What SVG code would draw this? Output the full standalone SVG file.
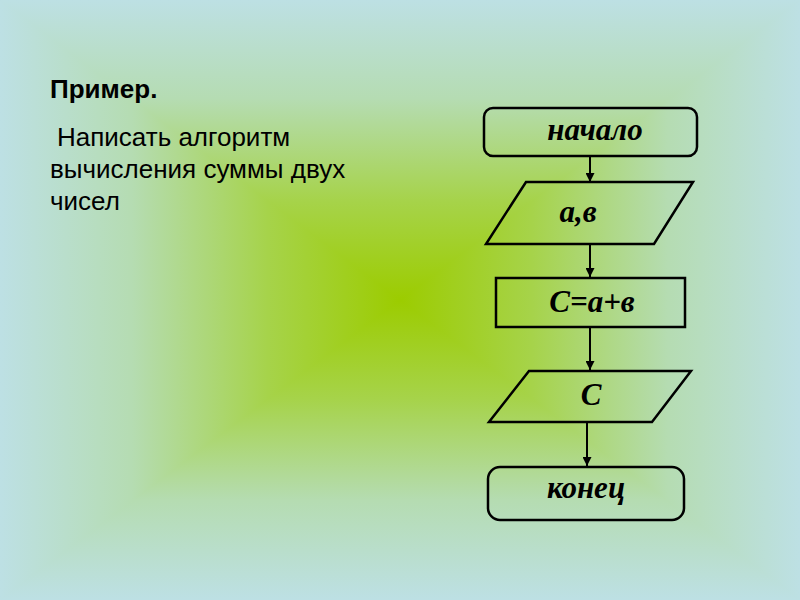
<svg xmlns="http://www.w3.org/2000/svg" width="800" height="600" viewBox="0 0 800 600">
<defs>
<linearGradient id="gT" gradientUnits="userSpaceOnUse" x1="0" y1="0" x2="0" y2="300">
<stop offset="0" stop-color="#bde0e4"/><stop offset="0.33" stop-color="#b5dcb2"/><stop offset="0.67" stop-color="#a6d34a"/><stop offset="1" stop-color="#9ccc00"/>
</linearGradient>
<linearGradient id="gB" gradientUnits="userSpaceOnUse" x1="0" y1="600" x2="0" y2="300">
<stop offset="0" stop-color="#bde0e4"/><stop offset="0.33" stop-color="#b5dcb2"/><stop offset="0.67" stop-color="#a6d34a"/><stop offset="1" stop-color="#9ccc00"/>
</linearGradient>
<linearGradient id="gL" gradientUnits="userSpaceOnUse" x1="0" y1="0" x2="400" y2="0">
<stop offset="0" stop-color="#bde0e4"/><stop offset="0.33" stop-color="#b5dcb2"/><stop offset="0.67" stop-color="#a6d34a"/><stop offset="1" stop-color="#9ccc00"/>
</linearGradient>
<linearGradient id="gR" gradientUnits="userSpaceOnUse" x1="800" y1="0" x2="400" y2="0">
<stop offset="0" stop-color="#bde0e4"/><stop offset="0.33" stop-color="#b5dcb2"/><stop offset="0.67" stop-color="#a6d34a"/><stop offset="1" stop-color="#9ccc00"/>
</linearGradient>
<marker id="arr" viewBox="0 0 10 10" refX="10" refY="5" markerWidth="4.5" markerHeight="4.5" orient="auto" markerUnits="strokeWidth">
<path d="M0,0 L10,5 L0,10 z" fill="#000"/>
</marker>
<style>
.shape{fill:none;stroke:#000;stroke-width:2.5}
.conn{stroke:#000;stroke-width:2;fill:none;marker-end:url(#arr)}
.lbl{font-family:"Liberation Serif","Times New Roman",serif;font-style:italic;font-weight:bold;font-size:31px;fill:#000;text-anchor:middle}
.body{font-family:"Liberation Sans",Arial,sans-serif;font-size:26px;fill:#000}
.bg{shape-rendering:crispEdges}
</style>
</defs>
<g id="background" class="bg">
<polygon points="0,0 800,0 400,300" fill="url(#gT)"/>
<polygon points="0,600 800,600 400,300" fill="url(#gB)"/>
<polygon points="0,0 0,600 400,300" fill="url(#gL)"/>
<polygon points="800,0 800,600 400,300" fill="url(#gR)"/>
</g>
<g id="title">
<text x="50" y="98" class="body" style="font-weight:bold">Пример.</text>
<text class="body"><tspan x="57" y="146">Написать алгоритм</tspan><tspan x="50" y="178">вычисления суммы двух</tspan><tspan x="50" y="210">чисел</tspan></text>
</g>
<g id="connectors">
<line class="conn" x1="590" y1="157" x2="590" y2="182"/>
<line class="conn" x1="590" y1="245" x2="590" y2="277"/>
<line class="conn" x1="590" y1="328" x2="590" y2="370"/>
<line class="conn" x1="587" y1="423" x2="587" y2="466"/>
</g>
<g id="start">
<rect class="shape" x="484" y="108" width="213" height="48" rx="9" ry="9"/>
<text class="lbl" x="595" y="140">начало</text>
</g>
<g id="input">
<polygon class="shape" points="526,182 693,182 654,244 486,244"/>
<text class="lbl" x="578" y="222">а,в</text>
</g>
<g id="process">
<rect class="shape" x="496" y="278" width="189" height="49"/>
<text class="lbl" x="592" y="312">С=а+в</text>
</g>
<g id="output">
<polygon class="shape" points="529,371 691,371 652,422 489,422"/>
<text class="lbl" x="591" y="405">С</text>
</g>
<g id="end">
<rect class="shape" x="488" y="467" width="196" height="53" rx="12" ry="12"/>
<text class="lbl" x="586" y="498">конец</text>
</g>
</svg>
